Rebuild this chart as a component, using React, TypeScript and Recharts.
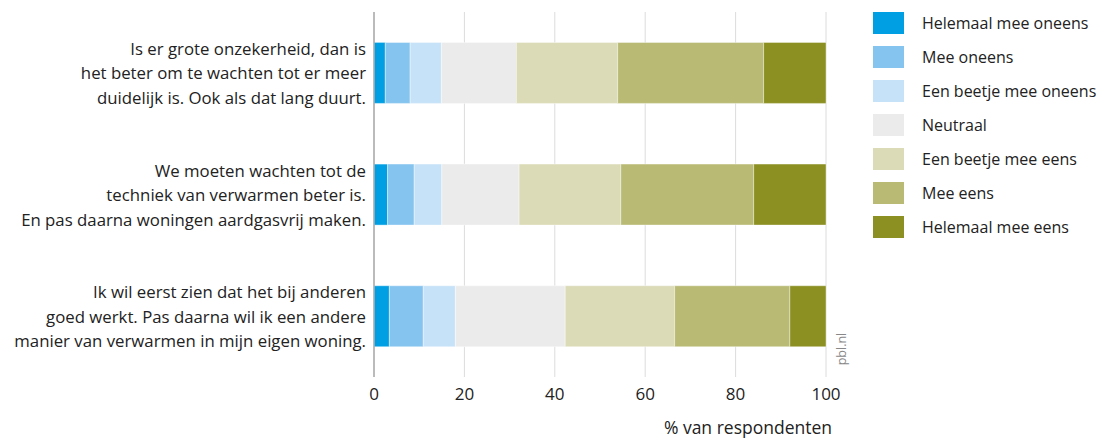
import React from 'react';
import { BarChart, Bar, XAxis, YAxis, CartesianGrid, Legend, Label } from 'recharts';

const categories = [
  'Is er grote onzekerheid, dan is|het beter om te wachten tot er meer|duidelijk is. Ook als dat lang duurt.',
  'We moeten wachten tot de|techniek van verwarmen beter is.|En pas daarna woningen aardgasvrij maken.',
  'Ik wil eerst zien dat het bij anderen|goed werkt. Pas daarna wil ik een andere|manier van verwarmen in mijn eigen woning.',
];

const seriesNames = [
  'Helemaal mee oneens',
  'Mee oneens',
  'Een beetje mee oneens',
  'Neutraal',
  'Een beetje mee eens',
  'Mee eens',
  'Helemaal mee eens',
];

const helemaalMeeOneens = [2.5, 3.0, 3.4];
const meeOneens = [5.5, 5.9, 7.5];
const beetjeMeeOneens = [6.9, 6.1, 7.1];
const neutraal = [16.6, 17.1, 24.3];
const beetjeMeeEens = [22.4, 22.5, 24.2];
const meeEens = [32.3, 29.4, 25.5];
const helemaalMeeEens = [13.8, 16.0, 8.0];

const xTicks = [0, 20, 40, 60, 80, 100];

const colors = ['#009fe3', '#85c4ef', '#c6e2f8', '#ebebeb', '#dbdbb7', '#b9bb75', '#8c9023'];

const seriesValues = [
  helemaalMeeOneens,
  meeOneens,
  beetjeMeeOneens,
  neutraal,
  beetjeMeeEens,
  meeEens,
  helemaalMeeEens,
];

const data = categories.map((c, i) => {
  const row: Record<string, string | number> = { name: c };
  seriesNames.forEach((s, j) => {
    row[s] = seriesValues[j][i];
  });
  return row;
});

const FONT = '"Open Sans", "Noto Sans", sans-serif';

const YTick = (props: any) => {
  const { x, y, payload } = props;
  const lines = String(payload.value).split('|');
  const lh = 24.5;
  const start = y - ((lines.length - 1) * lh) / 2;
  return (
    <g>
      {lines.map((l, i) => (
        <text
          key={i}
          x={x}
          y={start + i * lh}
          textAnchor="end"
          dominantBaseline="central"
          fontSize={16.8}
          fill="#222"
          fontFamily={FONT}
        >
          {l}
        </text>
      ))}
    </g>
  );
};

const XTick = (props: any) => {
  const { x, y, payload } = props;
  return (
    <text x={x} y={y + 8} textAnchor="middle" dominantBaseline="central" fontSize={17} fill="#222" fontFamily={FONT}>
      {payload.value}
    </text>
  );
};

const AxisTitle = (props: any) => {
  const { viewBox } = props;
  const x = viewBox.x + viewBox.width + 6;
  return (
    <text x={x} y={427} textAnchor="end" dominantBaseline="central" fontSize={17.5} fill="#222" fontFamily={FONT}>
      % van respondenten
    </text>
  );
};

const LegendContent = () => (
  <div style={{ fontFamily: FONT }}>
    {seriesNames.map((s, i) => (
      <div key={s} style={{ display: 'flex', alignItems: 'center', height: 34 }}>
        <div style={{ width: 31, height: 22, background: colors[i], marginRight: 18, flexShrink: 0 }} />
        <span style={{ fontSize: 16, color: '#222', whiteSpace: 'nowrap' }}>{s}</span>
      </div>
    ))}
  </div>
);

export default function App() {
  return (
    <div style={{ position: 'absolute', left: 0, top: 0, width: 1108, height: 438, background: '#fff' }}>
      <BarChart
        width={1108}
        height={438}
        data={data}
        layout="vertical"
        margin={{ top: 12, right: 47, bottom: 0, left: 0 }}
        barCategoryGap="25%"
      >
        <CartesianGrid horizontal={false} vertical={true} stroke="#dcdcdc" />
        <XAxis
          type="number"
          domain={[0, 100]}
          ticks={xTicks}
          axisLine={false}
          tickLine={false}
          height={61}
          tick={<XTick />}
          interval={0}
        >
          <Label content={<AxisTitle />} />
        </XAxis>
        <YAxis
          type="category"
          dataKey="name"
          width={374}
          axisLine={{ stroke: '#aaaaaa', strokeWidth: 1.5 }}
          tickLine={false}
          tick={<YTick />}
          interval={0}
        />
        <Legend
          layout="vertical"
          verticalAlign="top"
          align="right"
          content={<LegendContent />}
          wrapperStyle={{ left: 873, top: 6, width: 235 }}
        />
        {seriesNames.map((s, i) => (
          <Bar
            key={s}
            dataKey={s}
            stackId="a"
            fill={colors[i]}
            stroke="#ffffff"
            strokeWidth={0.4}
            isAnimationActive={false}
          />
        ))}
        <text
          x={841}
          y={349}
          transform="rotate(-90 841 349)"
          textAnchor="middle"
          dominantBaseline="central"
          fontSize={12.5}
          fill="#888"
          fontFamily={FONT}
        >
          pbl.nl
        </text>
      </BarChart>
    </div>
  );
}
